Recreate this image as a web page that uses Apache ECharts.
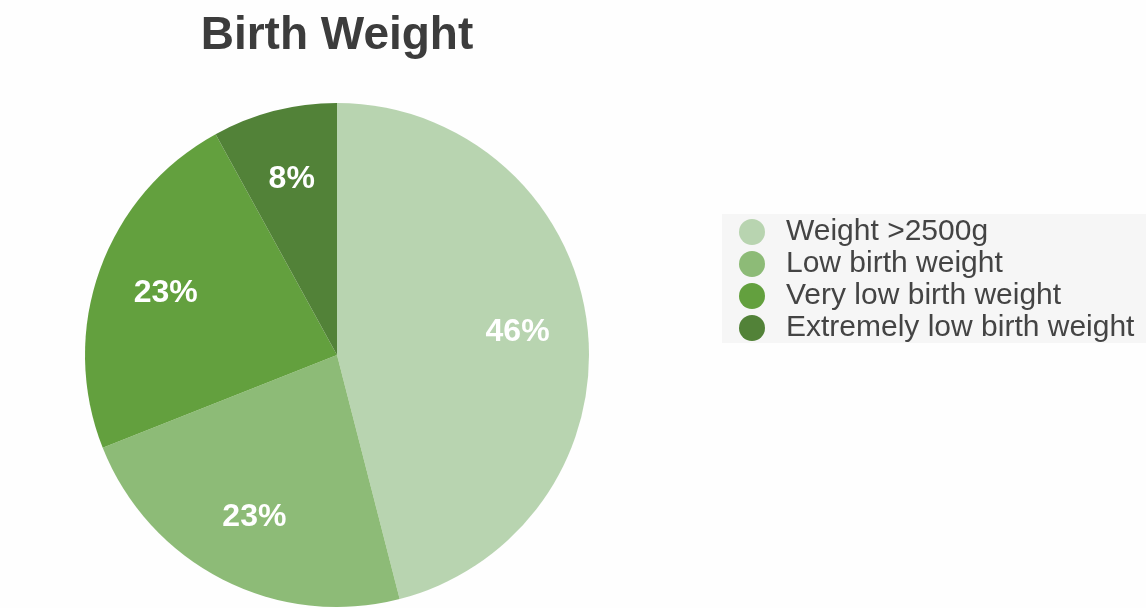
<!DOCTYPE html>
<html>
<head>
<meta charset="utf-8">
<script src="https://cdn.jsdelivr.net/npm/echarts@6/dist/echarts.min.js"></script>
<style>
  html, body { margin: 0; padding: 0; background: #fefefe; }
  #chart { width: 1146px; height: 608px; }
</style>
</head>
<body>
<div id="chart"></div>
<script>
// Birth weight categories and their shares (percent)
const categories = ['Weight >2500g', 'Low birth weight', 'Very low birth weight', 'Extremely low birth weight'];
const shares = [46, 23, 23, 8];
const sliceColors = ['#b8d4b0', '#8dbb77', '#63a03e', '#528238'];

const pieData = categories.map((name, i) => ({ name, value: shares[i], itemStyle: { color: sliceColors[i] } }));

const chart = echarts.init(document.getElementById('chart'), null, { renderer: 'canvas' });
chart.setOption({
  backgroundColor: '#fefefe',
  animation: false,
  title: {
    text: 'Birth Weight',
    left: 337,
    textAlign: 'center',
    top: 13,
    padding: 0,
    textStyle: { fontFamily: 'Liberation Sans, Arial, sans-serif', fontSize: 46, fontWeight: 'bold', color: '#3c3c3c' }
  },
  legend: {
    orient: 'vertical',
    left: 722,
    top: 214,
    padding: [3, 14, 0, 17],
    backgroundColor: '#f6f6f6',
    icon: 'circle',
    itemWidth: 26,
    itemHeight: 26,
    itemGap: 2,
    selectedMode: false,
    data: categories,
    textStyle: { fontFamily: 'Liberation Sans, Arial, sans-serif', fontSize: 30, color: '#444444', padding: [0, 0, 0, 16] }
  },
  series: [
    {
      type: 'pie',
      center: [337, 355],
      radius: [0, 252],
      startAngle: 90,
      clockwise: true,
      silent: true,
      label: { show: false },
      labelLine: { show: false },
      itemStyle: { borderWidth: 0 },
      data: pieData
    },
    {
      // transparent ring carrying the percentage labels further out than mid-radius
      type: 'pie',
      center: [337, 355],
      radius: [106, 252],
      startAngle: 90,
      clockwise: true,
      silent: true,
      legendHoverLink: false,
      itemStyle: { color: 'rgba(0,0,0,0)', borderWidth: 0 },
      label: {
        show: true,
        position: 'inside',
        formatter: p => p.value + '%',
        fontFamily: 'Liberation Sans, Arial, sans-serif',
        fontSize: 32,
        fontWeight: 'bold',
        color: '#ffffff'
      },
      labelLine: { show: false },
      data: categories.map((name, i) => ({ name, value: shares[i] }))
    }
  ]
});
</script>
</body>
</html>
